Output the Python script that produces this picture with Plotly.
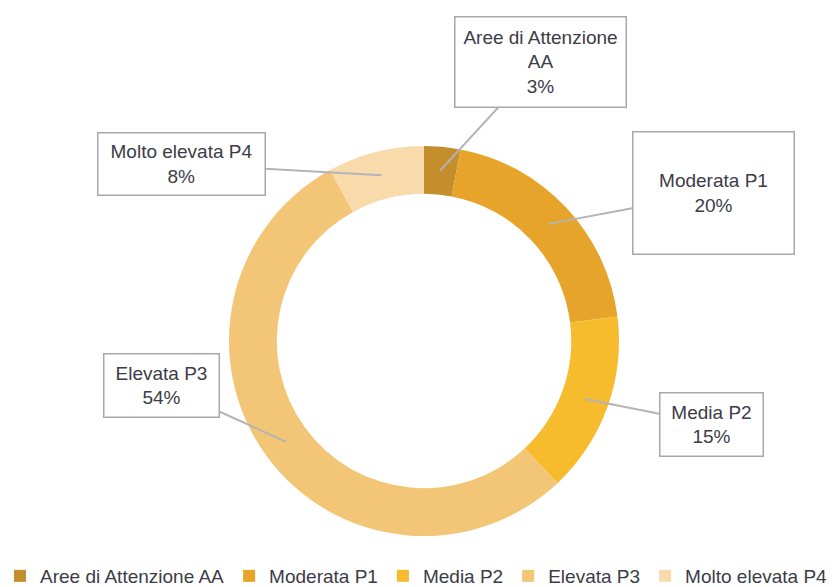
import math
import plotly.graph_objects as go

# ---- data ----
categories = ["Aree di Attenzione AA", "Moderata P1", "Media P2", "Elevata P3", "Molto elevata P4"]
values = [3, 20, 15, 54, 8]
callout_texts = ["Aree di Attenzione<br>AA<br>3%", "Moderata P1<br>20%", "Media P2<br>15%",
                 "Elevata P3<br>54%", "Molto elevata P4<br>8%"]
colors = ["#C48E2C", "#E6A42A", "#F7BC2E", "#F3C576", "#F9DAAB"]

# ---- layout geometry (pixels) ----
W, H = 835, 587
CX, CY, R_OUT = 424, 341, 195
HOLE = 0.755
R_MID = R_OUT * (1 + HOLE) / 2

def px2paper(x, y):
    return x / W, 1 - y / H

# callout boxes: centre x, centre y, width, height
boxes = [
    (540, 62, 170, 89),
    (713, 193, 160, 121),
    (711, 424, 102, 62),
    (161, 385, 114, 62),
    (181, 164, 166, 61),
]

x0, y1 = px2paper(CX - R_OUT, CY - R_OUT)
x1, y0 = px2paper(CX + R_OUT, CY + R_OUT)

fig = go.Figure(go.Pie(
    labels=categories,
    values=values,
    hole=HOLE,
    sort=False,
    direction="clockwise",
    rotation=0,
    marker=dict(colors=colors, line=dict(width=0)),
    textinfo="none",
    hoverinfo="label+percent",
    domain=dict(x=[x0, x1], y=[y0, y1]),
))

total = sum(values)
cum = 0
annotations = []
for v, txt, (bx, by, bw, bh) in zip(values, callout_texts, boxes):
    mid = (cum + v / 2) / total * 2 * math.pi
    cum += v
    tx = CX + R_MID * math.sin(mid)
    ty = CY - R_MID * math.cos(mid)
    px, py = px2paper(tx, ty)
    annotations.append(dict(
        x=px, y=py, xref="paper", yref="paper",
        text=txt, showarrow=True, arrowhead=0, arrowwidth=2, arrowcolor="#B4B4B8",
        ax=bx - tx, ay=by - ty, axref="pixel", ayref="pixel",
        width=bw, height=bh, align="center", valign="middle",
        bgcolor="white", bordercolor="#A8A8AC", borderwidth=1.5, borderpad=0,
        font=dict(family="Liberation Sans, Arial, sans-serif", size=19, color="#3C3C46"),
    ))

fig.update_layout(
    width=W, height=H,
    margin=dict(l=0, r=0, t=0, b=0, autoexpand=False),
    paper_bgcolor="white", plot_bgcolor="white",
    annotations=annotations,
    showlegend=True,
    legend=dict(orientation="h", x=0, xanchor="left", y=11 / H, yanchor="middle",
                font=dict(family="Liberation Sans, Arial, sans-serif", size=19, color="#3C3C46"),
                itemwidth=30, tracegroupgap=0),
)

fig.write_html("out.html", config={"displayModeBar": False},
               post_script="document.body.style.margin='0px';")
